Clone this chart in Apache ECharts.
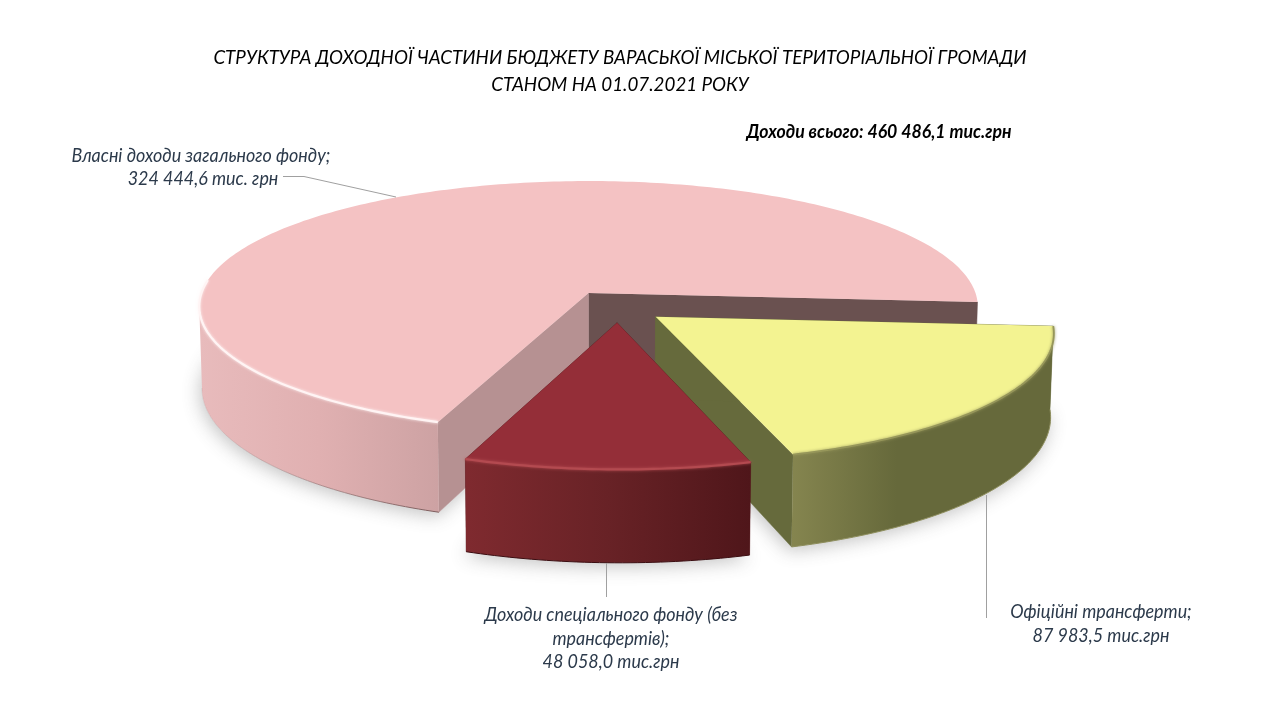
<!DOCTYPE html>
<html>
<head>
<meta charset="utf-8">
<style>html,body{margin:0;padding:0;background:#fff}#c{width:1280px;height:720px}</style>
<script src="https://cdn.jsdelivr.net/npm/echarts@6/dist/echarts.min.js"></script>
</head>
<body>
<div id="c"></div>
<script>
// ---- data ----
var categories = ['Власні доходи загального фонду', 'Офіційні трансферти', 'Доходи спеціального фонду (без трансфертів)'];
var values = [324444.6, 87983.5, 48058.0];
var titleLines = ['СТРУКТУРА ДОХОДНОЇ ЧАСТИНИ БЮДЖЕТУ ВАРАСЬКОЇ МІСЬКОЇ ТЕРИТОРІАЛЬНОЇ ГРОМАДИ', 'СТАНОМ НА 01.07.2021 РОКУ'];
var totalLabel = 'Доходи всього: 460 486,1 тис.грн';
var labelLines = [
  ['Власні доходи загального фонду;', '324 444,6 тис. грн'],
  ['Офіційні трансферти;', '87 983,5 тис.грн'],
  ['Доходи спеціального фонду (без', 'трансфертів);', '48 058,0 тис.грн']
];

// ---- look of the 3D pie ----
var view = {cx: 588.5, cy: 293, rx: 387, b: 124, p: 0.1075, depth: 81, startDeg: 110.5, taper: 0.993};
var explode = [[0, 0], [0.17, 0.187], [0.072, 0.234]];
var looks = [
  {top: '#f4c2c3', faces: ['#b69192', '#6a5150'], wallMid: 0.5,
   wall: ['#e8bbbc', '#e0b0b1', '#cda2a3'], rim: '#fff4f4', rimW: 2.2, edge: ['rgba(150,115,115,0.15)', '#7a5a5a']},
  {top: '#f3f391', faces: ['#666a3c', '#666a3c'], wallMid: 0.4,
   wall: ['#85854f', '#66693b', '#66693b'], rim: '#96965a', rimW: 1.8, edge: ['#8d8d5c', '#8d8d5c']},
  {top: '#942e38', faces: ['#5a1a1e', '#5a1a1e'], wallMid: 0.5,
   wall: ['#7f2a2f', '#682226', '#4f161a'], rim: '#b34a50', rimW: 2.2, edge: ['#3a0c10', '#3a0c10']}
];
var labelPos = [
  [[201, 156], [203, 179]],
  [[1101, 612], [1101, 636]],
  [[611, 615], [611, 639], [611, 662]]
];
var leaders = [
  [[283, 176.5], [304, 176.5], [396, 197]],
  [[986.5, 495], [986.5, 618]],
  [[606.5, 563], [606.5, 597]]
];
var FONT = 'Lato, "Open Sans", "Noto Sans", sans-serif';

function project(c, s, slice, down) {
  var ex = explode[slice][0], ey = explode[slice][1];
  var w = 1 - view.p * (s + ey);
  var x = (c + ex) * view.rx / w;
  var y = view.cy + view.b * (s + ey) / w;
  if (down) { x *= view.taper; y += view.depth / w; }
  return [view.cx + x, y];
}
function pt(deg, slice, down) {
  var r = deg * Math.PI / 180;
  return project(Math.cos(r), Math.sin(r), slice, down);
}
function arc(a0, a1, slice, down) {
  var out = [], n = Math.max(8, Math.round(Math.abs(a1 - a0)));
  for (var i = 0; i <= n; i++) out.push(pt(a0 + (a1 - a0) * i / n, slice, down));
  return out;
}
function sliceRange(idx) {
  var total = values.reduce(function (a, b) { return a + b; }, 0), acc = 0;
  for (var i = 0; i < idx; i++) acc += values[i];
  var a0 = view.startDeg + acc / total * 360;
  var a1 = a0 + values[idx] / total * 360;
  if (a0 >= 360) { a0 -= 360; a1 -= 360; }
  return [a0, a1];
}
var FRONT_LIMIT = 174;

function renderShadow(params) {
  var i = params.dataIndex, r = sliceRange(i);
  var pts = [project(0, 0, i, true)].concat(arc(r[0], r[1], i, true));
  return {type: 'polygon', shape: {points: pts},
    style: {fill: '#fff', shadowBlur: 18, shadowOffsetY: 4, shadowOffsetX: -2, shadowColor: 'rgba(70,70,70,0.32)'}};
}
function renderSolid(params) {
  var i = params.dataIndex, r = sliceRange(i), look = looks[i], kids = [];
  var a0 = r[0], a1 = r[1];
  function face(deg, fill) {
    var pa = project(0, 0, i, false), pb = pt(deg, i, false), pc = pt(deg, i, true), pd = project(0, 0, i, true);
    kids.push({type: 'polygon', shape: {points: [pa, pb, pc, pd]}, style: {fill: fill, stroke: fill, lineWidth: 0.5}});
  }
  face(a1, look.faces[1]);
  face(a0, look.faces[0]);
  var w0 = Math.max(a0, 0), w1 = Math.min(a1, FRONT_LIMIT);
  var topArc = arc(w0, w1, i, false), botArc = arc(w0, w1, i, true);
  kids.push({type: 'polygon', shape: {points: topArc.concat(botArc.slice().reverse())},
    style: {fill: {type: 'linear', x: 0, y: 0, x2: 1, y2: 0, colorStops: [
      {offset: 0, color: look.wall[0]}, {offset: look.wallMid, color: look.wall[1]}, {offset: 1, color: look.wall[2]}]}}});
  kids.push({type: 'polyline', shape: {points: botArc}, style: {fill: null, lineWidth: 1,
    stroke: {type: 'linear', x: 0, y: 0, x2: 1, y2: 0, colorStops: [
      {offset: 0, color: look.edge[0]}, {offset: 1, color: look.edge[1]}]}}});
  kids.push({type: 'polygon', shape: {points: [project(0, 0, i, false)].concat(arc(a0, a1, i, false))}, style: {fill: look.top}});
  kids.push({type: 'polyline', shape: {points: arc(w0, Math.min(a1, i === 0 ? 186 : a1), i, false)},
    style: {fill: null, stroke: look.rim, lineWidth: look.rimW, shadowBlur: 3, shadowColor: look.rim}});
  return {type: 'group', children: kids};
}

var graphics = [];
titleLines.forEach(function (t, k) {
  graphics.push({type: 'text', x: 620, y: [58, 85][k], scaleX: 0.938,
    style: {text: t, fill: '#000', font: 'italic 20px ' + FONT, align: 'center', verticalAlign: 'middle'}});
});
graphics.push({type: 'text', x: 879, y: 132, scaleX: 0.93,
  style: {text: totalLabel, fill: '#000', font: 'italic bold 19px ' + FONT, align: 'center', verticalAlign: 'middle'}});
labelLines.forEach(function (lines, i) {
  lines.forEach(function (t, k) {
    graphics.push({type: 'text', x: labelPos[i][k][0], y: labelPos[i][k][1], scaleX: 0.943,
      style: {text: t, fill: '#2c3a4b', font: 'italic 19px ' + FONT, align: 'center', verticalAlign: 'middle'}});
  });
});
leaders.forEach(function (pts) {
  graphics.push({type: 'polyline', shape: {points: pts}, z: 10, style: {fill: null, stroke: '#a0a0a0', lineWidth: 1}});
});

var chart = echarts.init(document.getElementById('c'), null, {renderer: 'canvas', width: 1280, height: 720});
var seriesData = values.map(function (v, i) { return {name: categories[i], value: v}; });
chart.setOption({
  animation: false,
  backgroundColor: '#fff',
  graphic: graphics,
  series: [
    {type: 'custom', coordinateSystem: 'none', z: 1, data: seriesData, renderItem: renderShadow, silent: true},
    {type: 'custom', coordinateSystem: 'none', z: 2, data: seriesData, renderItem: renderSolid}
  ]
});
</script>
</body>
</html>
